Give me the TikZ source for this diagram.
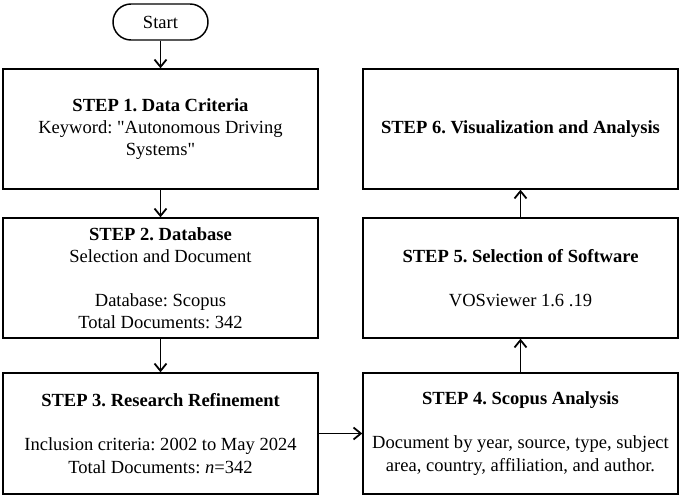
\documentclass[tikz,border=0pt]{standalone}
\usepackage{fontspec}
\setmainfont{Liberation Serif}[Ligatures=TeXOff]
\usetikzlibrary{arrows.meta}
\begin{document}
\frenchspacing
\begin{tikzpicture}[x=0.75pt,y=-0.75pt,
  box/.style={draw,line width=1.1pt,minimum width=236.25pt,minimum height=90pt,align=center,inner sep=1pt,font=\fontsize{13.9}{16.6}\selectfont},
  startbox/.style={draw,line width=1.1pt,minimum width=71.25pt,minimum height=27pt,rounded corners=13.5pt,font=\fontsize{13.9}{16.6}\selectfont},
  arr/.style={line width=1.35pt,-{Straight Barb[length=5.5pt,width=9pt,line width=1.35pt]}}]
\useasboundingbox (0,0) rectangle (683,498);
\node[startbox] (start) at (160.5,22) {Start};
\node[box] (s1) at (160.5,129) {\textbf{STEP 1. Data Criteria}\\Keyword: "Autonomous Driving\\Systems"};
\node[box] (s2) at (160.5,278) {\textbf{STEP 2. Database}\\Selection and Document\\[16.6pt]Database: Scopus\\Total Documents: 342};
\node[box,minimum height=90.75pt] (s3) at (160.5,433.5) {\textbf{STEP 3. Research Refinement}\\[16.6pt]Inclusion criteria: 2002 to May 2024\\Total Documents: \textit{n}=342};
\node[box,minimum height=90.75pt] (s4) at (520.5,433.5) {\textbf{STEP 4. Scopus Analysis}\\[16.6pt]Document by year, source, type, subject\\area, country, affiliation, and author.};
\node[box] (s5) at (520.5,278) {\textbf{STEP 5. Selection of Software}\\[16.6pt]VOSviewer 1.6 .19};
\node[box] (s6) at (520.5,129) {\textbf{STEP 6. Visualization and Analysis}};
\draw[arr] (start) -- (s1);
\draw[arr] (s1) -- (s2);
\draw[arr] (s2) -- (s3);
\draw[arr] (s3) -- (s4);
\draw[arr] (s4) -- (s5);
\draw[arr] (s5) -- (s6);
\end{tikzpicture}
\end{document}
